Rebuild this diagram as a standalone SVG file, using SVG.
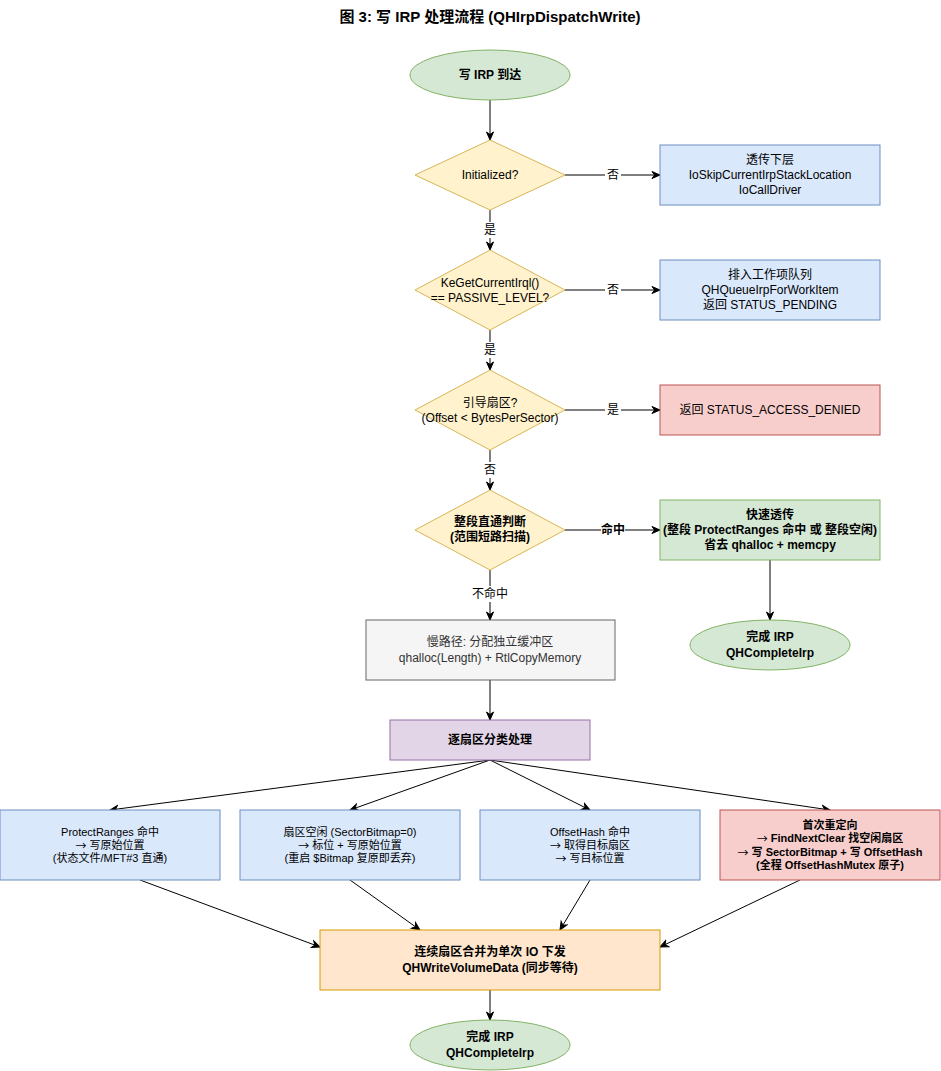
<svg xmlns="http://www.w3.org/2000/svg" width="941" height="1071" viewBox="0 0 941 1071">
<style>
text{font-family:"Liberation Sans","Noto Sans CJK SC",sans-serif;font-size:12px;fill:#000;text-anchor:middle;dominant-baseline:central}
.b{font-weight:bold}
.s{font-size:11px}
.ar{font-family:"Noto Sans CJK SC",sans-serif;font-weight:normal}
.title{font-size:15px;font-weight:bold}
.blue{fill:#dae8fc;stroke:#6c8ebf}
.yel{fill:#fff2cc;stroke:#d6b656}
.red{fill:#f8cecc;stroke:#b85450}
.grn{fill:#d5e8d4;stroke:#82b366}
.gry{fill:#f5f5f5;stroke:#666666}
.pur{fill:#e1d5e7;stroke:#9673a6}
.org{fill:#ffe6cc;stroke:#d79b00}
.e{fill:none;stroke:#000;stroke-width:1;marker-end:url(#a)}
.lb{fill:#fff}
.g{fill:#333}
</style>
<defs>
<marker id="a" markerWidth="10" markerHeight="10" refX="9" refY="5" orient="auto" markerUnits="userSpaceOnUse">
<path d="M1,1.5 L9,5 L1,8.5 L3.5,5 z" fill="#000" stroke="#000" stroke-width="1"/>
</marker>
</defs>
<rect width="941" height="1071" fill="#fff"/>
<text class="title" x="490" y="16">图 3: 写 IRP 处理流程 (QHIrpDispatchWrite)</text>

<g id="connectors">
<path class="e" d="M490,100 L490,140"/>
<path class="e" d="M565,175 L660,175"/>
<path class="e" d="M490,210 L490,250"/>
<path class="e" d="M565,290 L660,290"/>
<path class="e" d="M490,330 L490,370"/>
<path class="e" d="M565,410 L660,410"/>
<path class="e" d="M490,450 L490,490"/>
<path class="e" d="M565,530 L660,530"/>
<path class="e" d="M490,570 L490,620"/>
<path class="e" d="M770,560 L770,620"/>
<path class="e" d="M490,680 L490,720"/>
<path class="e" d="M490,760 L110,810"/>
<path class="e" d="M490,760 L350,810"/>
<path class="e" d="M490,760 L590,810"/>
<path class="e" d="M490,760 L830,810"/>
<path class="e" d="M140,880 L320,947"/>
<path class="e" d="M350,880 L420,930"/>
<path class="e" d="M590,880 L560,930"/>
<path class="e" d="M800,880 L660,947"/>
<path class="e" d="M490,990 L490,1020"/>
<rect class="lb" x="605" y="167" width="16" height="16"/><text x="613" y="175">否</text>
<rect class="lb" x="482" y="222" width="16" height="16"/><text x="490" y="230">是</text>
<rect class="lb" x="605" y="282" width="16" height="16"/><text x="613" y="290">否</text>
<rect class="lb" x="482" y="342" width="16" height="16"/><text x="490" y="350">是</text>
<rect class="lb" x="605" y="402" width="16" height="16"/><text x="613" y="410">是</text>
<rect class="lb" x="482" y="462" width="16" height="16"/><text x="490" y="470">否</text>
<rect class="lb" x="601" y="522" width="24" height="16"/><text class="b" x="613" y="530">命中</text>
<rect class="lb" x="472" y="586" width="36" height="16"/><text x="490" y="594">不命中</text>
</g>

<g id="start"><ellipse class="grn" cx="490" cy="75" rx="80" ry="25"/><text class="b" x="490" y="75">写 IRP 到达</text></g>

<g id="d1"><path class="yel" d="M490,140 L565,175 L490,210 L415,175 Z"/><text x="490" y="175">Initialized?</text></g>
<g id="b1"><rect class="blue" x="660" y="145" width="220" height="60"/>
<text x="770" y="160">透传下层</text><text x="770" y="175">IoSkipCurrentIrpStackLocation</text><text x="770" y="190">IoCallDriver</text></g>

<g id="d2"><path class="yel" d="M490,250 L565,290 L490,330 L415,290 Z"/><text x="490" y="283">KeGetCurrentIrql()</text><text x="490" y="298">== PASSIVE_LEVEL?</text></g>
<g id="b2"><rect class="blue" x="660" y="260" width="220" height="60"/>
<text x="770" y="275">排入工作项队列</text><text x="770" y="290">QHQueueIrpForWorkItem</text><text x="770" y="305">返回 STATUS_PENDING</text></g>

<g id="d3"><path class="yel" d="M490,370 L565,410 L490,450 L415,410 Z"/><text x="490" y="403">引导扇区?</text><text x="490" y="418">(Offset &lt; BytesPerSector)</text></g>
<g id="b3"><rect class="red" x="660" y="385" width="220" height="50"/><text x="770" y="410">返回 STATUS_ACCESS_DENIED</text></g>

<g id="d4"><path class="yel" d="M490,490 L565,530 L490,570 L415,530 Z"/><text class="b" x="490" y="522">整段直通判断</text><text class="b" x="490" y="537">(范围短路扫描)</text></g>
<g id="b4"><rect class="grn" x="660" y="500" width="220" height="60"/>
<text class="b" x="770" y="515">快速透传</text><text class="b" x="770" y="530">(整段 ProtectRanges 命中 或 整段空闲)</text><text class="b" x="770" y="545">省去 qhalloc + memcpy</text></g>

<g id="end1"><ellipse class="grn" cx="770" cy="645" rx="80" ry="25"/><text class="b" x="770" y="637">完成 IRP</text><text class="b" x="770" y="653">QHCompleteIrp</text></g>

<g id="slow"><rect class="gry" x="366" y="620" width="249" height="60"/><text class="g" x="490" y="642">慢路径: 分配独立缓冲区</text><text class="g" x="490" y="658">qhalloc(Length) + RtlCopyMemory</text></g>

<g id="classify"><rect class="pur" x="390" y="720" width="200" height="40"/><text class="b" x="490" y="740">逐扇区分类处理</text></g>

<g id="c1"><rect class="blue" x="0" y="810" width="220" height="70"/>
<text class="s" x="110" y="832">ProtectRanges 命中</text><text class="s" x="110" y="845"><tspan class="ar">→</tspan> 写原始位置</text><text class="s" x="110" y="858">(状态文件/MFT#3 直通)</text></g>
<g id="c2"><rect class="blue" x="240" y="810" width="220" height="70"/>
<text class="s" x="350" y="832">扇区空闲 (SectorBitmap=0)</text><text class="s" x="350" y="845"><tspan class="ar">→</tspan> 标位 + 写原始位置</text><text class="s" x="350" y="858">(重启 $Bitmap 复原即丢弃)</text></g>
<g id="c3"><rect class="blue" x="480" y="810" width="220" height="70"/>
<text class="s" x="590" y="832">OffsetHash 命中</text><text class="s" x="590" y="845"><tspan class="ar">→</tspan> 取得目标扇区</text><text class="s" x="590" y="858"><tspan class="ar">→</tspan> 写目标位置</text></g>
<g id="c4"><rect class="red" x="720" y="810" width="220" height="70"/>
<text class="s b" x="830" y="825">首次重定向</text><text class="s b" x="830" y="838"><tspan class="ar">→</tspan> FindNextClear 找空闲扇区</text><text class="s b" x="830" y="852"><tspan class="ar">→</tspan> 写 SectorBitmap + 写 OffsetHash</text><text class="s b" x="830" y="865">(全程 OffsetHashMutex 原子)</text></g>

<g id="merge"><rect class="org" x="320" y="930" width="340" height="60"/><text class="b" x="490" y="952">连续扇区合并为单次 IO 下发</text><text class="b" x="490" y="968">QHWriteVolumeData (同步等待)</text></g>

<g id="end2"><ellipse class="grn" cx="490" cy="1045" rx="80" ry="25"/><text class="b" x="490" y="1037">完成 IRP</text><text class="b" x="490" y="1053">QHCompleteIrp</text></g>
</svg>
